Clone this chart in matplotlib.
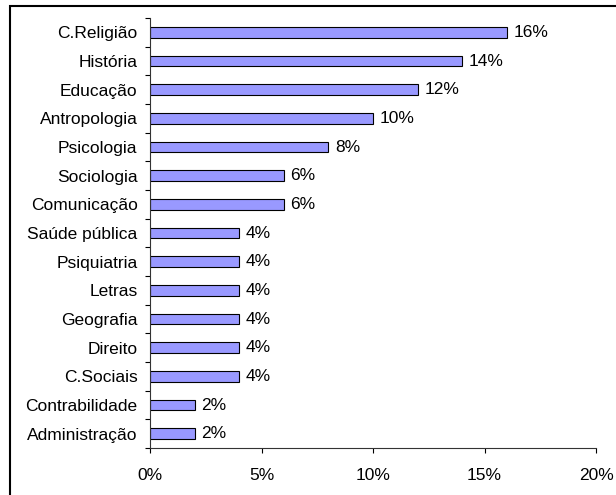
import matplotlib.pyplot as plt
import numpy as np
from matplotlib.patches import Rectangle
from matplotlib.ticker import FuncFormatter

plt.rcParams['font.family'] = ['Liberation Sans', 'DejaVu Sans']

areas = ['C.Religião', 'História', 'Educação', 'Antropologia', 'Psicologia',
         'Sociologia', 'Comunicação', 'Saúde pública', 'Psiquiatria', 'Letras',
         'Geografia', 'Direito', 'C.Sociais', 'Contrabilidade', 'Administração']
pct = [16, 14, 12, 10, 8, 6, 6, 4, 4, 4, 4, 4, 4, 2, 2]

fig = plt.figure(figsize=(6.16, 4.95), dpi=100)
ax = fig.add_axes([150/616, 1 - 448/495, 446/616, 430/495])

y = np.arange(len(areas))[::-1]
ax.barh(y, pct, height=0.37, color='#9999FF', edgecolor='black', linewidth=0.8)
for yi, v in zip(y, pct):
    ax.text(v + 0.3, yi, f'{v}%', va='center', ha='left', fontsize=12.5)

ax.set_xlim(0, 20)
ax.set_ylim(-0.5, len(areas) - 0.5)
ax.set_xticks([0, 5, 10, 15, 20])
ax.xaxis.set_major_formatter(FuncFormatter(lambda v, p: f'{v:.0f}%'))

# category labels sit between the tick marks
ax.set_yticks(np.arange(len(areas) + 1) - 0.5)
ax.set_yticklabels([])
ax.set_yticks(y, minor=True)
ax.set_yticklabels(areas, minor=True)
ax.tick_params(axis='y', which='minor', length=0, pad=9, labelsize=12.5)
ax.tick_params(axis='y', which='major', length=3.6, width=0.8, direction='out')
ax.tick_params(axis='x', length=3.6, width=0.8, direction='out', labelsize=12.5, pad=11)

for s in ['top', 'right']:
    ax.spines[s].set_visible(False)
for s in ['left', 'bottom']:
    ax.spines[s].set_linewidth(0.8)
    ax.spines[s].set_color('#333333')

# outer frame, runs off the right and bottom edges
fig.patches.append(Rectangle((10/616, -0.1), 1.0, 1 - 6/495 + 0.1, transform=fig.transFigure,
                             fill=False, edgecolor='black', linewidth=1.5, clip_on=False))

fig.savefig('out.png', dpi=100)
